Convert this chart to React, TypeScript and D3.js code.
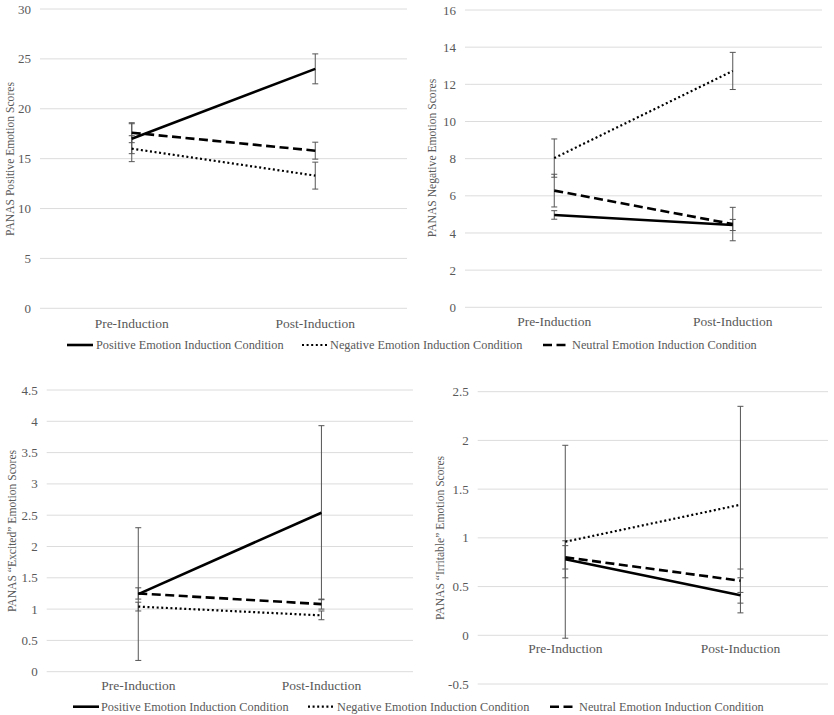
import React from "react";
import * as d3 from "d3";

// ---- data ----
const categories = ["Pre-Induction", "Post-Induction"];
const conditions = [
  "Positive Emotion Induction Condition",
  "Negative Emotion Induction Condition",
  "Neutral Emotion Induction Condition",
];

// Panel 1: PANAS Positive Emotion Scores
const posScorePositive = [17.0, 24.0];
const posScorePositiveErr = [1.5, 1.5];
const posScoreNegative = [16.0, 13.3];
const posScoreNegativeErr = [1.3, 1.35];
const posScoreNeutral = [17.6, 15.8];
const posScoreNeutralErr = [1.0, 0.85];
const posTicks = [0, 5, 10, 15, 20, 25, 30];

// Panel 2: PANAS Negative Emotion Scores
const negScorePositive = [4.97, 4.43];
const negScorePositiveErr = [0.23, 0.3];
const negScoreNegative = [8.03, 12.72];
const negScoreNegativeErr = [1.03, 1.0];
const negScoreNeutral = [6.28, 4.48];
const negScoreNeutralErr = [0.88, 0.9];
const negTicks = [0, 2, 4, 6, 8, 10, 12, 14, 16];

// Panel 3: PANAS "Excited"
const excPositive = [1.24, 2.54];
const excPositiveErr = [1.06, 1.39];
const excNegative = [1.04, 0.9];
const excNegativeErr = [0.07, 0.07];
const excNeutral = [1.25, 1.08];
const excNeutralErr = [0.09, 0.08];
const excTicks = [0, 0.5, 1, 1.5, 2, 2.5, 3, 3.5, 4, 4.5];

// Panel 4: PANAS "Irritable"
const irrPositive = [0.78, 0.41];
const irrPositiveErr = [0.19, 0.18];
const irrNegative = [0.96, 1.34];
const irrNegativeErr = [0.99, 1.01];
const irrNeutral = [0.8, 0.56];
const irrNeutralErr = [0.12, 0.12];
const irrTicks = [-0.5, 0, 0.5, 1, 1.5, 2, 2.5];

const FONT = '"Liberation Serif", "Times New Roman", Times, serif';
const GRAY = "#595959";
const txt = (size: number): React.CSSProperties => ({ fontFamily: FONT, fontSize: `${size}px`, fill: GRAY });

const styles = [
  { dash: "none", width: 2.6 },
  { dash: "2,2.6", width: 2.2 },
  { dash: "9,4.5", width: 2.6 },
];

type Series = { values: number[]; errs: number[] };

type PanelProps = {
  title: string;
  series: Series[];
  domain: [number, number];
  ticks: number[];
  x0: number;
  x1: number;
  yBottom: number;
  yTop: number;
  catY: number;
  titleX: number;
  titleY: number;
};

function Panel(p: PanelProps) {
  const x = d3.scalePoint<string>().domain(categories).range([p.x0, p.x1]).padding(0.5);
  const y = d3.scaleLinear().domain(p.domain).range([p.yBottom, p.yTop]);
  const line = d3
    .line<number>()
    .x((_, i) => x(categories[i]) as number)
    .y((v) => y(v));
  const cap = 3;
  return (
    <g>
      {p.ticks.map((t) => (
        <g key={t}>
          <line x1={p.x0} x2={p.x1} y1={y(t)} y2={y(t)} stroke="#dcdcdc" strokeWidth={1} />
          <text x={p.x0 - 9} y={y(t)} dy="0.35em" textAnchor="end" style={txt(13)}>
            {String(t)}
          </text>
        </g>
      ))}
      {categories.map((c) => (
        <text key={c} x={x(c)} y={p.catY} dy="0.35em" textAnchor="middle" style={txt(13.5)}>
          {c}
        </text>
      ))}
      <text
        transform={`translate(${p.titleX},${p.titleY}) rotate(-90)`}
        textAnchor="middle"
        dy="0.35em"
        style={txt(11.6)}
      >
        {p.title}
      </text>
      {p.series.map((s, si) =>
        s.values.map((v, i) => {
          const cx = x(categories[i]) as number;
          const hi = y(v + s.errs[i]);
          const lo = y(v - s.errs[i]);
          return (
            <g key={`e${si}-${i}`} stroke="#555" strokeWidth={1}>
              <line x1={cx} x2={cx} y1={hi} y2={lo} />
              <line x1={cx - cap} x2={cx + cap} y1={hi} y2={hi} />
              <line x1={cx - cap} x2={cx + cap} y1={lo} y2={lo} />
            </g>
          );
        })
      )}
      {p.series.map((s, si) => (
        <path
          key={`l${si}`}
          d={line(s.values) as string}
          fill="none"
          stroke="#000"
          strokeWidth={styles[si].width}
          strokeDasharray={styles[si].dash}
        />
      ))}
    </g>
  );
}

function Legend({ y, items }: { y: number; items: { lx: number; tx: number }[] }) {
  return (
    <g>
      {conditions.map((c, i) => (
        <g key={c}>
          <line
            x1={items[i].lx}
            x2={items[i].lx + 26}
            y1={y}
            y2={y}
            stroke="#000"
            strokeWidth={styles[i].width}
            strokeDasharray={styles[i].dash}
          />
          <text x={items[i].tx} y={y} dy="0.35em" style={txt(12.3)}>
            {c}
          </text>
        </g>
      ))}
    </g>
  );
}

export default function App() {
  return (
    <div style={{ position: "absolute", left: 0, top: 0 }}>
      <svg width={834} height={715} style={{ display: "block", background: "#fff" }}>
        <Panel
          title="PANAS Positive Emotion Scores"
          series={[
            { values: posScorePositive, errs: posScorePositiveErr },
            { values: posScoreNegative, errs: posScoreNegativeErr },
            { values: posScoreNeutral, errs: posScoreNeutralErr },
          ]}
          domain={[0, 30]}
          ticks={posTicks}
          x0={40}
          x1={407}
          yBottom={308.3}
          yTop={9}
          catY={323}
          titleX={10}
          titleY={159}
        />
        <Panel
          title="PANAS Negative Emotion Scores"
          series={[
            { values: negScorePositive, errs: negScorePositiveErr },
            { values: negScoreNegative, errs: negScoreNegativeErr },
            { values: negScoreNeutral, errs: negScoreNeutralErr },
          ]}
          domain={[0, 16]}
          ticks={negTicks}
          x0={465}
          x1={822}
          yBottom={307.3}
          yTop={10}
          catY={321}
          titleX={432}
          titleY={158}
        />
        <Panel
          title="PANAS “Excited” Emotion Scores"
          series={[
            { values: excPositive, errs: excPositiveErr },
            { values: excNegative, errs: excNegativeErr },
            { values: excNeutral, errs: excNeutralErr },
          ]}
          domain={[0, 4.5]}
          ticks={excTicks}
          x0={46.7}
          x1={413}
          yBottom={671.7}
          yTop={390}
          catY={685}
          titleX={12}
          titleY={531}
        />
        <Panel
          title="PANAS “Irritable” Emotion Scores"
          series={[
            { values: irrPositive, errs: irrPositiveErr },
            { values: irrNegative, errs: irrNegativeErr },
            { values: irrNeutral, errs: irrNeutralErr },
          ]}
          domain={[-0.5, 2.5]}
          ticks={irrTicks}
          x0={477.7}
          x1={828}
          yBottom={684}
          yTop={391.7}
          catY={648.5}
          titleX={440}
          titleY={538}
        />
        <Legend
          y={345}
          items={[
            { lx: 67, tx: 96 },
            { lx: 302, tx: 330 },
            { lx: 543, tx: 572 },
          ]}
        />
        <Legend
          y={706.7}
          items={[
            { lx: 73, tx: 101 },
            { lx: 308, tx: 337 },
            { lx: 550, tx: 579 },
          ]}
        />
      </svg>
    </div>
  );
}
